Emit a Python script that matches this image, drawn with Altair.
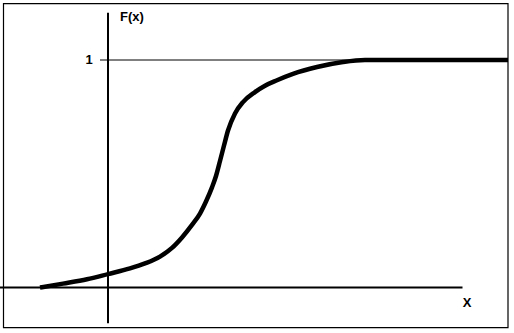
import altair as alt
import pandas as pd

# CDF curve
curve_x = [-1.36, -0.90, -0.42, 0.00, 0.44, 0.74, 1.04, 1.28, 1.48, 1.68, 1.84, 1.96, 2.08,
           2.16, 2.24, 2.32, 2.40, 2.54, 2.70, 2.94, 3.14, 3.38, 3.70, 4.18, 4.70, 5.14, 8.00]
curve_F = [0.000, 0.017, 0.036, 0.059, 0.084, 0.106, 0.136, 0.174, 0.220, 0.275, 0.325, 0.378,
           0.440, 0.490, 0.556, 0.624, 0.690, 0.765, 0.815, 0.859, 0.887, 0.911, 0.939, 0.969,
           0.991, 1.000, 1.000]

# decorations (data units)
frame_x = [-2.09, 8.0]
frame_F = [-0.176, 1.248]
vaxis_F = [-0.157, 1.208]
haxis_x = [-2.16, 7.09]
one_x = [-0.16, 8.0]
label_text = ["1", "F(x)", "X"]
label_x = [-0.38, 0.48, 7.18]
label_F = [1.0, 1.189, -0.070]

X_DOMAIN = [-2.16, 8.12]
Y_DOMAIN = [-0.2, 1.26374]

xs = alt.Scale(domain=X_DOMAIN, nice=False, zero=False)
ys = alt.Scale(domain=Y_DOMAIN, nice=False, zero=False)

curve_df = pd.DataFrame({"x": curve_x, "F": curve_F})
frame_df = pd.DataFrame({"x": [frame_x[0]], "x2": [frame_x[1]], "y": [frame_F[0]], "y2": [frame_F[1]]})
vaxis_df = pd.DataFrame({"x": [0.0], "y": [vaxis_F[0]], "y2": [vaxis_F[1]]})
haxis_df = pd.DataFrame({"x": [haxis_x[0]], "x2": [haxis_x[1]], "y": [0.0]})
one_df = pd.DataFrame({"x": [one_x[0]], "x2": [one_x[1]], "y": [1.0]})
lab_df = pd.DataFrame({"t": label_text, "x": label_x, "y": label_F})

frame = alt.Chart(frame_df).mark_rect(fill=None, stroke="black", strokeWidth=1.2).encode(
    x=alt.X("x:Q", scale=xs, axis=None), x2="x2:Q",
    y=alt.Y("y:Q", scale=ys, axis=None), y2="y2:Q")

vaxis = alt.Chart(vaxis_df).mark_rule(color="black", strokeWidth=2).encode(
    x=alt.X("x:Q", scale=xs, axis=None),
    y=alt.Y("y:Q", scale=ys, axis=None), y2="y2:Q")

haxis = alt.Chart(haxis_df).mark_rule(color="black", strokeWidth=2).encode(
    x=alt.X("x:Q", scale=xs, axis=None), x2="x2:Q",
    y=alt.Y("y:Q", scale=ys, axis=None))

one = alt.Chart(one_df).mark_rule(color="black", strokeWidth=1).encode(
    x=alt.X("x:Q", scale=xs, axis=None), x2="x2:Q",
    y=alt.Y("y:Q", scale=ys, axis=None))

curve = alt.Chart(curve_df).mark_line(color="black", strokeWidth=4.5, interpolate="monotone",
                                      strokeCap="butt").encode(
    x=alt.X("x:Q", scale=xs, axis=None),
    y=alt.Y("F:Q", scale=ys, axis=None),
    order=alt.Order("x:Q"))

labels = alt.Chart(lab_df).mark_text(font="Liberation Sans", fontSize=13, fontWeight="bold",
                                     color="black", align="center", baseline="middle").encode(
    x=alt.X("x:Q", scale=xs, axis=None),
    y=alt.Y("y:Q", scale=ys, axis=None),
    text="t:N")

chart = alt.layer(frame, one, haxis, vaxis, curve, labels).properties(
    width=514, height=333, padding=0, autosize=alt.AutoSizeParams(type="none"),
    background="white"
).configure_view(stroke=None)

chart.save("out.html", embed_options={"renderer": "svg", "actions": False})
